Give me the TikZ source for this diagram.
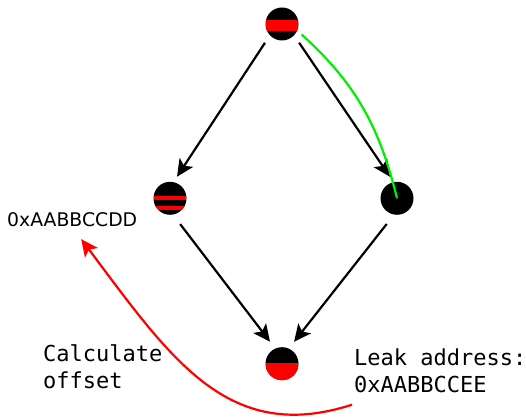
\documentclass[tikz,border=0pt]{standalone}
\usepackage{fontspec}
\setmonofont{DejaVu Sans Mono}
\newfontfamily\addrfont{DejaVu Sans}
\usetikzlibrary{arrows.meta,calc}
\definecolor{LeakRed}{HTML}{FF0000}
\definecolor{PathGreen}{HTML}{00EE00}
\newcommand{\band}[2]{\fill[LeakRed] ([yshift=#1]path picture bounding box.west) rectangle ([yshift=#2]path picture bounding box.east);}

\begin{document}
\begin{tikzpicture}[
  x=1pt, y=1pt,
  blk/.style={circle, fill=black, minimum size=33pt, inner sep=0pt, outer sep=0pt},
  txt/.style={font=\ttfamily\fontsize{22}{26.5}\selectfont, inner sep=0pt, align=left, anchor=base west},
  arr/.style={-{Stealth[length=17pt,width=16pt,inset=4pt]}, line width=2.2pt}
]
\useasboundingbox (0,0) rectangle (526,419);
% vertices
\node[blk, path picture={\band{-7pt}{3.7pt}}] (root) at (282,395) {};
\node[blk, path picture={\band{-2pt}{2.6pt}\band{-11.4pt}{-7.4pt}}] (leftv) at (170,220.7) {};
\node[blk] (rightv) at (397,220.7) {};
\node[blk, path picture={\band{-20pt}{0.4pt}}] (sink) at (282,55.3) {};

% labels
\node[font=\addrfont\fontsize{18.8}{22}\selectfont, inner sep=0pt, anchor=base west] (addr) at (7,192.3) {0xAABBCCDD};
\node[txt] (note) at (43,30.8) {Calculate\\offset};
\node[txt] (leak) at (354,26.8) {Leak address:\\0xAABBCCEE};

% arrows
\draw[arr, shorten <=9pt, shorten >=6.5pt] (root.223) -- (leftv.78);
\draw[arr, shorten <=9pt, shorten >=6.5pt] (root.317) -- (rightv.102);
\draw[arr, shorten <=12pt, shorten >=8.7pt] (leftv.280) -- (sink.114);
\draw[arr, shorten <=12pt, shorten >=8.7pt] (rightv.260) -- (sink.66);
\draw[PathGreen, line width=2.2pt, shorten <=6pt] (root.-23) to[bend left=17] (rightv.center);
\draw[arr, LeakRed] ($(leak.south west)+(-2,-12)$) .. controls +(-124,-40) and +(90,-120) .. ($(addr.south)+(9,-12)$);
\end{tikzpicture}
\end{document}
